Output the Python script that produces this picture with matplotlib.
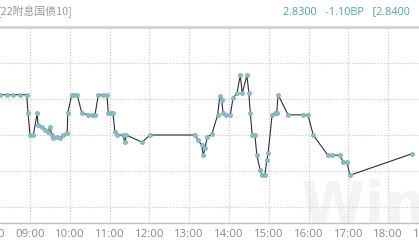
import matplotlib
matplotlib.use("Agg")
import matplotlib.pyplot as plt

# ---------------- data ----------------
times = [
    "08:05", "08:15", "08:25", "08:35", "08:45", "08:55", "08:57", "09:00",
    "09:05", "09:11", "09:12", "09:18", "09:23", "09:27", "09:30", "09:33",
    "09:35", "09:41", "09:45", "09:50", "09:56", "09:57", "10:03", "10:07",
    "10:11", "10:18", "10:27", "10:33", "10:38", "10:43", "10:50", "10:56",
    "10:58", "11:02", "11:05", "11:08", "11:11", "11:20", "11:23", "11:25",
    "11:49", "12:01", "13:09", "13:13", "13:19", "13:21", "13:24", "13:27",
    "13:34", "13:43", "13:46", "13:49", "13:51", "13:56", "14:02", "14:06",
    "14:12", "14:17", "14:20", "14:27", "14:30", "14:32", "14:35", "14:39",
    "14:42", "14:47", "14:50", "14:54", "14:57", "14:59", "15:05", "15:09",
    "15:12", "15:14", "15:29", "15:52", "15:59", "16:07", "16:29", "16:35",
    "16:47", "16:52", "16:58", "17:02", "18:36",
]
yields = [
    2.8356, 2.8356, 2.8356, 2.8356, 2.8356, 2.8356, 2.8331, 2.8300,
    2.8300, 2.8331, 2.8314, 2.8311, 2.8307, 2.8304, 2.8311, 2.8300,
    2.8296, 2.8297, 2.8296, 2.8300, 2.8303, 2.8331, 2.8356, 2.8356,
    2.8356, 2.8331, 2.8328, 2.8328, 2.8328, 2.8356, 2.8356, 2.8356,
    2.8331, 2.8331, 2.8331, 2.8304, 2.8300, 2.8300, 2.8290, 2.8300,
    2.8290, 2.8300, 2.8300, 2.8293, 2.8286, 2.8272, 2.8282, 2.8297,
    2.8301, 2.8328, 2.8354, 2.8349, 2.8331, 2.8328, 2.8328, 2.8351,
    2.8358, 2.8383, 2.8358, 2.8383, 2.8358, 2.8331, 2.8300, 2.8300,
    2.8272, 2.8251, 2.8244, 2.8244, 2.8265, 2.8275, 2.8328, 2.8330,
    2.8331, 2.8356, 2.8328, 2.8328, 2.8328, 2.8300, 2.8272, 2.8272,
    2.8272, 2.8263, 2.8263, 2.8244, 2.8274,
]
hour_ticks = list(range(8, 20))
hour_labels = [f"{h:02d}:00" for h in hour_ticks]
y_grid = [2.820, 2.825, 2.830, 2.835, 2.840]

bond_name = "[22附息国债10]"
quote_text = "2.8300   -1.10BP   [2.8400"


def to_hours(t):
    h, m = t.split(":")
    return int(h) + int(m) / 60.0


x = [to_hours(t) for t in times]

# ---------------- figure ----------------
W, H = 419, 240
fig = plt.figure(figsize=(W / 100, H / 100), dpi=100)
fig.patch.set_facecolor("white")

# axes runs a bit past both figure edges (picture is cropped)
left_px, right_px = -30, 449
top_px, bottom_px = 27, 223
ax = fig.add_axes([left_px / W, (H - bottom_px) / H,
                   (right_px - left_px) / W, (bottom_px - top_px) / H])
ax.set_facecolor("none")
ax.set_zorder(1)

# hour -> pixel: 09:00 at x=30, 39.8 px per hour
px_per_h = 39.8
ax.set_xlim(9 + (left_px - 30) / px_per_h, 9 + (right_px - 30) / px_per_h)
# yield -> pixel: 2.840 at y=63, 36 px per 0.005
per_px = 0.005 / 36
ax.set_ylim(2.840 - (bottom_px - 63) * per_px, 2.840 + (63 - top_px) * per_px)

ax.set_xticks(hour_ticks)
ax.set_xticklabels(hour_labels)
ax.set_yticks(y_grid)
ax.set_yticklabels([])
ax.tick_params(axis="both", length=0)
ax.tick_params(axis="x", pad=4, labelsize=8.2, labelcolor="#8a8a8a")
for lab in ax.get_xticklabels():
    lab.set_family(["Open Sans", "DejaVu Sans"])

ax.grid(True, color="#c4c4c4", linestyle=(0, (1, 1.6)), linewidth=0.8)
ax.set_axisbelow(True)

for side in ["left", "right"]:
    ax.spines[side].set_visible(False)
ax.spines["top"].set_color("#d2d2d2")
ax.spines["top"].set_linewidth(2)
ax.spines["bottom"].set_color("#c0c0c0")
ax.spines["bottom"].set_linewidth(1)

ax.plot(x, yields, color="#2e2e2e", linewidth=0.8, zorder=3)
ax.plot(x, yields, linestyle="none", marker="o", markersize=2.9,
        markerfacecolor="#8dbcc4", markeredgecolor="#79adb6",
        markeredgewidth=0.5, zorder=4)

# watermark, sitting behind the axes
fig.text(300 / W, (H - 224) / H, "Wind", fontsize=42, fontweight="bold",
         color="#f3f3f3", family="DejaVu Sans", zorder=0)

# header
fig.text(-2 / W, (H - 12) / H, bond_name, fontsize=7.8, color="#9a9a9a",
         va="center", ha="left", family=["Noto Sans CJK SC", "DejaVu Sans"])
fig.text(283 / W, (H - 12) / H, quote_text, fontsize=7.8, color="#4fa3ad",
         va="center", ha="left", family=["Open Sans", "DejaVu Sans"])

fig.savefig("out.png", dpi=100)
